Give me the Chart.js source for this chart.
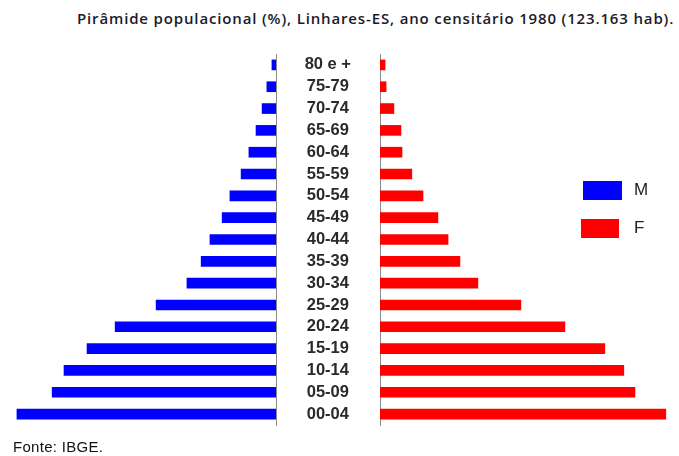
<!DOCTYPE html>
<html>
<head>
<meta charset="utf-8">
<script src="https://cdn.jsdelivr.net/npm/chart.js@4.4.0/dist/chart.umd.min.js"></script>
<style>
  html, body { margin: 0; padding: 0; background: #fff; }
  #wrap { position: relative; width: 679px; height: 456px; overflow: hidden; background: #fff; }
  #title { position: absolute; left: 77px; top: 8px; white-space: nowrap; letter-spacing: 0.85px;
           font-family: "Open Sans", sans-serif; font-weight: 600; font-size: 15px; color: #1a1a2a; }
  #source { position: absolute; left: 13px; top: 438px; white-space: nowrap;
            font-family: "Liberation Sans", Arial, sans-serif; font-size: 15px; color: #111; letter-spacing: 0.3px; }
  #cm { position: absolute; left: 0; top: 0; }
  #cf { position: absolute; left: 277px; top: 0; }
  .leg { position: absolute; font-family: "Liberation Sans", Arial, sans-serif; font-size: 17px; color: #222; }
  .box { position: absolute; }
</style>
</head>
<body>
<div id="wrap">
  <div id="title">Pirâmide populacional (%), Linhares-ES, ano censitário 1980 (123.163 hab).</div>
  <div id="cm" style="width:277px;height:456px;"><canvas id="male"></canvas></div>
  <div id="cf" style="width:402px;height:456px;"><canvas id="female"></canvas></div>
  <div id="legend"></div>
  <div id="source">Fonte: IBGE.</div>
</div>
<script>
// ---- data ----
const ageGroups = ["80 e +","75-79","70-74","65-69","60-64","55-59","50-54","45-49","40-44",
                   "35-39","30-34","25-29","20-24","15-19","10-14","05-09","00-04"];
const maleValues   = [0.12,0.27,0.41,0.59,0.80,1.03,1.36,1.59,1.95,2.21,2.63,3.54,4.75,5.58,6.26,6.61,7.65];
const femaleValues = [0.15,0.18,0.41,0.62,0.65,0.94,1.27,1.71,2.01,2.36,2.89,4.16,5.46,6.64,7.20,7.53,8.44];
const seriesNames  = ["M","F"];
const seriesColors = ["#0000FF","#FF0000"];

// ---- legend (HTML) ----
const legendPos = [{bx:583, by:181, bw:39, bh:19, tx:634, ty:180},
                   {bx:581, by:219, bw:38, bh:19, tx:634, ty:218}];
const legend = document.getElementById('legend');
seriesNames.forEach((n,i)=>{
  const p = legendPos[i];
  const b = document.createElement('div');
  b.className='box';
  b.style.cssText = `left:${p.bx}px;top:${p.by}px;width:${p.bw}px;height:${p.bh}px;background:${seriesColors[i]};`;
  legend.appendChild(b);
  const t = document.createElement('div');
  t.className='leg';
  t.style.cssText = `left:${p.tx}px;top:${p.ty}px;`;
  t.textContent = n;
  legend.appendChild(t);
});

const axisColor = '#8a8a8a';
const PAD_TOP = 54, PAD_BOTTOM = 31;

// ---- male chart (left, reversed) ----
new Chart(document.getElementById('male'), {
  type: 'bar',
  data: { labels: ageGroups,
    datasets: [{ label: seriesNames[0], data: maleValues, backgroundColor: seriesColors[0],
                 barThickness: 10, borderWidth: 0 }] },
  options: {
    indexAxis: 'y', responsive: true, maintainAspectRatio: false, animation: false,
    layout: { padding: { top: PAD_TOP, bottom: PAD_BOTTOM, left: 0, right: 0 } },
    plugins: { legend: { display: false }, tooltip: { enabled: false }, title: { display: false } },
    scales: {
      x: { reverse: true, min: 0, max: 8.15, display: false },
      y: { position: 'right', grid: { display: false, drawTicks: false },
           ticks: { display: false },
           border: { display: true, color: axisColor, width: 1 },
           afterFit: s => { s.width = 1; s.paddingTop = 0; s.paddingBottom = 0; } }
    }
  }
});

// ---- female chart (right, with age labels) ----
new Chart(document.getElementById('female'), {
  type: 'bar',
  data: { labels: ageGroups,
    datasets: [{ label: seriesNames[1], data: femaleValues, backgroundColor: seriesColors[1],
                 barThickness: 10, borderWidth: 0 }] },
  options: {
    indexAxis: 'y', responsive: true, maintainAspectRatio: false, animation: false,
    layout: { padding: { top: PAD_TOP, bottom: PAD_BOTTOM, left: 0, right: 0 } },
    plugins: { legend: { display: false }, tooltip: { enabled: false }, title: { display: false } },
    scales: {
      x: { min: 0, max: 8.83, display: false },
      y: { position: 'left', grid: { display: false, drawTicks: false },
           border: { display: true, color: axisColor, width: 1 },
           ticks: { crossAlign: 'center', padding: 29, color: '#2a2a2a', autoSkip: false,
                    font: { family: '"Liberation Sans", Arial, sans-serif', size: 16.5, weight: 'bold' } },
           afterFit: s => { s.width = 103; s.paddingTop = 0; s.paddingBottom = 0; } }
    }
  }
});
</script>
</body>
</html>
